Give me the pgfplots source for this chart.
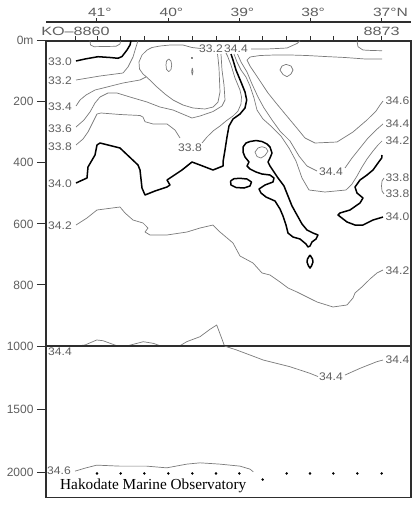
\documentclass[border=0pt]{standalone}
\usepackage{pgfplots}
\pgfplotsset{compat=1.18}
\usepackage{fontspec}
\setmainfont{Liberation Serif}
\newfontfamily\lab{Liberation Sans}
\usepackage{graphicx}
\definecolor{cl}{HTML}{7A7A7A}
\definecolor{lbl}{HTML}{5E5E5E}
\definecolor{frm}{HTML}{2E2E2E}
\newcommand{\clab}[3]{\node[font=\lab\fontsize{11}{11}\selectfont, text=lbl, inner sep=0pt] at (axis cs:#1,#2) {\scalebox{1.1}[1]{#3}};}
\begin{document}
\begin{tikzpicture}
\useasboundingbox (0pt,0pt) rectangle (418pt,-506pt);
\pgfplotsset{
  sec/.style={scale only axis, width=364.4pt, xmin=46.3, xmax=410.7, y dir=reverse,
    axis line style={frm, line width=1.6pt}, xtick=\empty, ytick pos=left, tick align=outside,
    major tick length=9.3pt, tick style={frm, line width=0.9pt},
    yticklabel style={font=\lab\fontsize{12}{12}\selectfont, text=lbl},
    clip=true},
  thn/.style={cl, line width=0.7pt, mark=none, line join=round},
  thk/.style={black, line width=1.5pt, mark=none, line join=round},
}
% ---------------- upper section 0-1000 m ----------------
\begin{axis}[sec, at={(46.3pt,-40.7pt)}, anchor=north west, height=305.3pt,
  ymin=0, ymax=1000, ytick={0,200,400,600,800,1000}, yticklabels={0m,200,400,600,800,1000}]
% small loop top left
\addplot[thn] coordinates {(90,0) (90.5,14) (94,19.6) (116,18.3) (120,10.8) (120.5,0)};
% 33.0
\addplot[thk] coordinates {(76,66.5) (85,59.9) (98,52.4) (110,55) (118,57.6) (122,51.8) (127,30.5) (130,14.1) (131,0)};
% 33.2 left
\addplot[thn] coordinates {(76,128.7) (100,115.6) (123,105.8) (128,86.1) (133,53.4) (136,20.6) (138,0)};
% 33.2 top
\addplot[thn] coordinates {(201,25.6) (192,22.3) (183,14.1) (170,14.1) (160,17.4) (152,22.3) (147,30.5) (142,46.8) (139,69.8) (139.5,92.7) (143,109.1) (146,117.3) (152,135.3) (157,151.7) (165,174.6) (173,194.2) (183,210.6) (193,220.4) (205,223.7) (213,217.2) (218,200.8) (220,168) (219.5,128.7) (219,89.4) (218,56.7) (217.5,43.6)};
% 33.4
\addplot[thn] coordinates {(76,213.9) (80,194.2) (86,177.9) (95,161.5) (107,151.7) (123,138.5) (140,128.7) (146,118.9)};
% 33.6
\addplot[thn] coordinates {(76,282.7) (84,259.7) (90,233.5) (95,204) (100,184.4) (108,171.3) (117,171.3) (130,184.4) (147,200.8) (160,217.2) (173,227) (192,253.2) (200,246.6) (213,232) (222,213.9) (225,194.2) (224,145.1) (222,96) (221,43.6)};
% 33.8
\addplot[thn] coordinates {(76,341.6) (83,322) (88,299) (93,266.3) (97,240.1) (101,236.8) (120,241.7) (140,245) (143,250) (145,265.3) (153,272.8) (167,272.8) (175,292.5) (180,318.7)};
\addplot[thn] coordinates {(202,335.1) (207,315.4) (213,295.8) (220,279.4) (226,263) (233,246.6) (238,230.3) (241,207.3) (241.5,184.4) (240,161.5) (235,122.2) (231,79.6) (227.5,50.1) (226,40.3)};
% 34.0 main
\addplot[thk] coordinates {(76,466.1) (87,449.7) (88,413.7) (95,374.4) (97,341.6) (100,335.1) (120,351.5) (138,407.1) (140,423.5) (142,482.5) (145,505.4) (155,492.3) (167,479.2) (170,472.6) (167,456.3) (182,423.5) (192,397.3) (200,407.1) (213,423.5) (223,410.4) (223,397.3) (225,358) (227,315.4) (229,279.4) (233,256.5) (240,240.1) (245,220.4) (246.7,194.2) (245,168) (241,135.3) (236,96) (233,63.2) (231,43.6)};
% 34.2 upper
\addplot[thn] coordinates {(234,43.6) (237,69.8) (241,96) (246,118.9) (250,148.4) (254,187.7) (257,227) (263,256.5) (272,282.7) (281,312.2) (289,351.5) (296,394) (302,449.7) (309,489) (325,495.6) (346,489) (352,469.4) (357,443.2) (362,413.7) (367,387.5) (373,361.3) (378,341.6) (382,328.5)};
% 34.4
\addplot[thn] coordinates {(237.5,43.6) (241,69.8) (247,102.5) (252,141.8) (258,184.4) (264,220.4) (272,259.7) (280,295.8) (290,328.5) (299,377.7) (307,410.4) (317,426.8)};
\addplot[thn] coordinates {(345,416.9) (352,384.2) (360,351.5) (368,318.7) (376,292.5) (383,272.8)};
% 34.6
\addplot[thn] coordinates {(382,59.9) (365,59.9) (345,55) (325,51.8) (307,48.5) (290,46.8) (275,46.8) (260,48.5) (250,53.4) (247,63.2) (250,82.9) (256,112.3) (262,141.8) (268,171.3) (276,204) (286,243.4) (296,282.7) (305,318.7) (315,335.1) (337,331.8) (353,299) (367,259.7) (376,230.3) (380,210.6) (383,197.5)};
% 34.4 top
\addplot[thn] coordinates {(251,27.2) (267,27.2) (287,23.9) (297,9.2) (300,0)};
\addplot[thn] coordinates {(357,0) (358,19.6) (363,30.5) (372,32.1) (382,32.8)};
% closed small loops
\addplot[thn] coordinates {(280,96) (282,82.9) (286,77.5) (291,82.9) (293,96) (291,109.1) (287,117.9) (283,110.7) (280,96)};
\addplot[thn] coordinates {(168.8,59.9) (171,66.5) (171.7,79.6) (171,94.3) (168.8,101.5) (166.5,94.3) (166,79.6) (166.5,66.5) (168.8,59.9)};
\addplot[thn] coordinates {(191,55) (192.4,55) (192.4,58.5) (191,58.5) (191,55)};
\addplot[thn] coordinates {(192.3,89.4) (193,100.9) (192.3,112.3) (191.6,100.9) (192.3,89.4)};
% 34.0 right
\addplot[thk] coordinates {(382,374.4) (381.7,384.2) (378,400.6) (373,423.5) (367,439.9) (360,456.3) (355,479.2) (357,498.8) (363,515.2) (360,531.6) (350,554.5) (340,564.3) (338,570.9) (347,593.8) (355,603.7) (363,603.7) (373,587.3) (383,577.5)};
% 33.8 right
\addplot[thn] coordinates {(384,449.7) (382,459.5) (381.5,475.9) (382,492.3) (384,502.1)};
% 34.2 lower
\addplot[thn] coordinates {(76,603.7) (87,580.7) (97,554.5) (120,544.7) (125,564.3) (133,587.3) (143,597.1) (148,613.5) (145,626.6) (150,636.4) (167,636.4) (187,626.6) (200,613.5) (213,603.7) (220,626.6) (233,662.6) (240,705.2) (253,728.1) (262,760.8) (270,767.4) (280,790.3) (288,810) (297,823.1) (317,855.8) (333,872.2) (347,865.6) (353,842.7) (355,826.3) (363,803.4) (370,780.5) (377,760.8) (383,751)};
% 34.0 tongue
\addplot[thk] coordinates {(243,348.2) (246,335.1) (250,330.2) (256,326.9) (262,330.2) (267,338.4) (270,348.2) (272,367.9) (270,384.2) (268,397.3) (270,410.4) (274,430) (278,449.7) (284,475.9) (288,508.7) (292,541.4) (297,570.9) (302,600.4) (307,620) (313,629.9) (318,636.4) (316,649.5) (312,659.3) (310,672.4) (308,675.7) (306,665.9) (300,649.5) (293,643) (288,629.9) (286,603.7) (283,574.2) (280,551.2) (275,525) (266,512) (261,498.8) (259,485.7) (265,472.6) (273,462.8) (274,449.7) (270,439.9) (262,436.6) (256,430) (250,420.2) (247,410.4) (249,397.3) (245,381) (243,364.6) (243,348.2)};
\addplot[thn] coordinates {(255,364.6) (258,351.5) (262,347.2) (266,351.5) (268,361.3) (265,376) (261,384.2) (257,379.3) (255,364.6)};
\addplot[thk] coordinates {(230.5,459.5) (234,452) (240,450.7) (247,453) (251.5,462.8) (250,475.9) (244,482.5) (236,480.8) (231,472.6) (230.5,459.5)};
\addplot[thk] coordinates {(310,701.9) (312.5,715) (313,724.8) (311.5,737.9) (310,744.5) (308.5,737.9) (307,724.8) (307.5,715) (310,701.9)};
% 34.4 near 1000 m
\addplot[thn] coordinates {(76.7,1000) (85,996.7) (96.7,980.3) (103,982.6) (116.7,999) (126.7,1000) (143.3,985.9) (153.3,991.2) (160,999) (180,999) (186.7,985.9) (200,969.5) (210,945.3) (216.7,931.2) (221.7,974.8) (224.5,1000)};
% labels
\clab{60}{69.8}{33.0}
\clab{60}{132}{33.2}
\clab{60}{217.2}{33.4}
\clab{60}{287.6}{33.6}
\clab{60}{346.5}{33.8}
\clab{60}{469.4}{34.0}
\clab{60}{605.3}{34.2}
\clab{211}{27.2}{33.2}
\clab{236}{27.2}{34.4}
\clab{190}{351.5}{33.8}
\clab{331}{430}{34.4}
\clab{397.5}{197.5}{34.6}
\clab{397.5}{273.5}{34.4}
\clab{397.5}{328.5}{34.2}
\clab{397.5}{449.7}{33.8}
\clab{397.5}{502}{33.8}
\clab{397.5}{575.8}{34.0}
\clab{397.5}{754.4}{34.2}
\end{axis}
% ---------------- lower section 1000-2200 m ----------------
\begin{axis}[sec, at={(46.3pt,-346pt)}, anchor=north west, height=151.3pt,
  ymin=1000, ymax=2200, ytick={1500,2000}, yticklabels={1500,2000}]
\addplot[thn] coordinates {(224.5,1000) (236.7,1031.8) (263.3,1111.2) (290,1164.4) (310,1216.8) (318,1242.2)};
\addplot[thn] coordinates {(345,1230.3) (360,1177.1) (376.7,1124.7) (383,1111.2)};
\addplot[thn] coordinates {(75,1992.5) (85,1968.7) (96.7,1944.9) (120,1952.8) (146.7,1952.8) (166.7,1966.3) (186.7,1936.9) (200,1926.6) (220,1936.9) (240,1952.8) (250,1976.6) (253.3,1998)};
\addplot[only marks, mark=*, mark size=1pt, black] coordinates {(97,2011) (120.7,2011) (144.3,2011) (168.3,2011) (192.3,2011) (216,2011) (239.3,2011) (262.7,2059) (286.7,2011) (310,2011) (333.3,2011) (357.3,2011) (381.7,2011)};
\clab{60}{1047.6}{34.4}
\clab{331}{1243.8}{34.4}
\clab{397.5}{1111.2}{34.4}
\clab{59}{1992.5}{34.6}
\end{axis}
% ---------------- top decorations ----------------
\draw[frm, line width=1.2pt] (46.3pt,-22pt) -- (410.7pt,-22pt);
\foreach \x in {96.7,168.3,239.3,310,381.7} \draw[frm, line width=0.9pt] (\x pt,-22pt) -- (\x pt,-18pt);
\foreach \x in {75.5,97,120.7,144.3,168.3,192.3,216,239.3,262.7,286.7,310,333.3,357.3,381.7} \draw[frm, line width=0.9pt] (\x pt,-40.7pt) -- (\x pt,-36pt);
\tikzset{tl/.style={font=\lab\fontsize{12}{12}\selectfont, text=lbl, inner sep=0pt}}
\node[tl] at (96.7pt,-12.5pt) {\scalebox{1.3}[1]{\phantom{°}41°}};
\node[tl] at (168.3pt,-12.5pt) {\scalebox{1.3}[1]{\phantom{°}40°}};
\node[tl] at (239.3pt,-12.5pt) {\scalebox{1.3}[1]{\phantom{°}39°}};
\node[tl] at (310pt,-12.5pt) {\scalebox{1.3}[1]{\phantom{°}38°}};
\node[tl] at (381.7pt,-12.5pt) {\scalebox{1.3}[1]{\phantom{°N}37°N}};
\node[tl] at (75.5pt,-31pt) {\scalebox{1.35}[1]{KO–8860}};
\node[tl] at (381.7pt,-31pt) {\scalebox{1.35}[1]{8873}};
\node[anchor=base west, inner sep=0pt, font=\fontsize{15.3}{15.3}\selectfont] at (60pt,-489pt) {Hakodate Marine Observatory};
\end{tikzpicture}
\end{document}
